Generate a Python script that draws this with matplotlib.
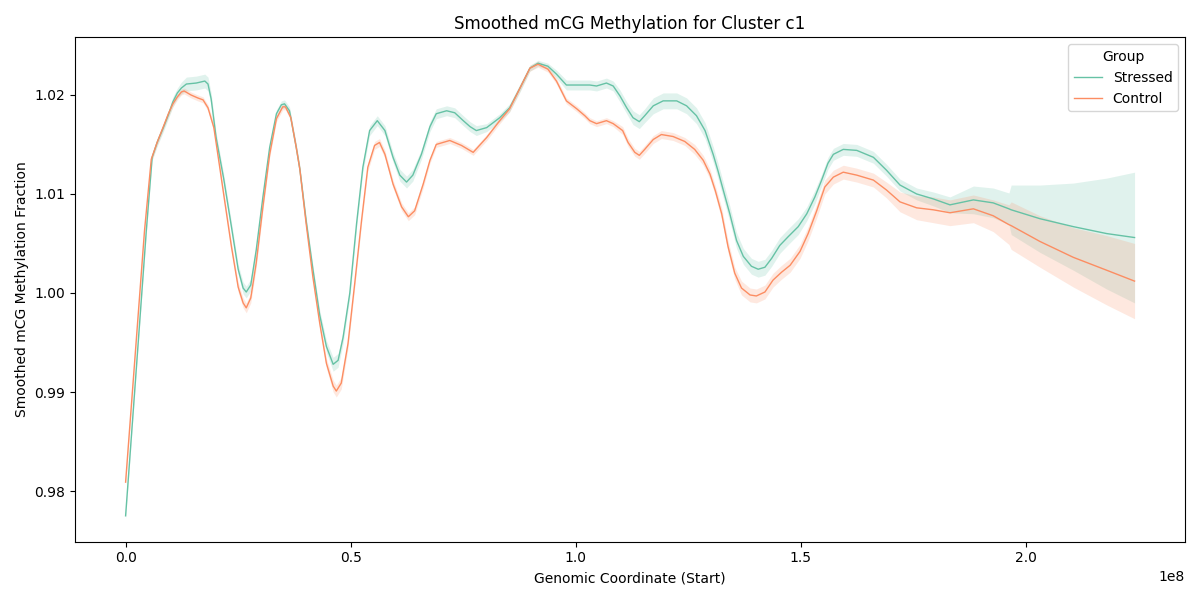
import numpy as np
import matplotlib
matplotlib.use("Agg")
import matplotlib.pyplot as plt

# Genomic start positions (units of 1e8 bp), smoothed means and CI half-widths
stressed_start = [0.000, 0.020, 0.046, 0.059, 0.070, 0.083, 0.095, 0.105, 0.115, 0.124,
                  0.135, 0.157, 0.176, 0.183, 0.190, 0.201, 0.218, 0.235, 0.250, 0.261,
                  0.268, 0.278, 0.290, 0.305, 0.320, 0.335, 0.346, 0.353, 0.364, 0.379,
                  0.387, 0.401, 0.416, 0.431, 0.446, 0.461, 0.472, 0.483, 0.498, 0.513,
                  0.527, 0.542, 0.559, 0.576, 0.594, 0.609, 0.624, 0.638, 0.657, 0.676,
                  0.690, 0.713, 0.731, 0.750, 0.765, 0.779, 0.802, 0.831, 0.853, 0.876,
                  0.898, 0.916, 0.938, 0.957, 0.979, 1.002, 1.031, 1.046, 1.068, 1.083,
                  1.098, 1.113, 1.127, 1.141, 1.153, 1.172, 1.194, 1.224, 1.246, 1.268,
                  1.287, 1.305, 1.316, 1.328, 1.342, 1.357, 1.372, 1.390, 1.405, 1.420,
                  1.435, 1.453, 1.472, 1.494, 1.513, 1.531, 1.546, 1.560, 1.572, 1.594,
                  1.624, 1.661, 1.690, 1.720, 1.757, 1.794, 1.831, 1.883, 1.927, 1.962,
                  1.967, 2.031, 2.105, 2.179, 2.241]
stressed_mean = [0.9775, 0.9900, 1.0063, 1.0137, 1.0152, 1.0166, 1.0180, 1.0193, 1.0202, 1.0207,
                 1.0211, 1.0212, 1.0214, 1.0211, 1.0196, 1.0157, 1.0115, 1.0067, 1.0024, 1.0005,
                 1.0001, 1.0008, 1.0043, 1.0097, 1.0147, 1.0181, 1.0190, 1.0191, 1.0184, 1.0147,
                 1.0125, 1.0073, 1.0024, 0.9978, 0.9946, 0.9928, 0.9932, 0.9955, 1.0000, 1.0070,
                 1.0127, 1.0164, 1.0174, 1.0164, 1.0137, 1.0119, 1.0112, 1.0119, 1.0140, 1.0168,
                 1.0181, 1.0184, 1.0182, 1.0174, 1.0168, 1.0164, 1.0167, 1.0177, 1.0187, 1.0207,
                 1.0227, 1.0232, 1.0229, 1.0221, 1.0210, 1.0210, 1.0210, 1.0209, 1.0212, 1.0209,
                 1.0199, 1.0187, 1.0177, 1.0173, 1.0179, 1.0189, 1.0194, 1.0194, 1.0189, 1.0179,
                 1.0164, 1.0140, 1.0123, 1.0103, 1.0080, 1.0053, 1.0037, 1.0027, 1.0024, 1.0026,
                 1.0035, 1.0048, 1.0057, 1.0067, 1.0080, 1.0097, 1.0114, 1.0131, 1.0140, 1.0145,
                 1.0144, 1.0137, 1.0124, 1.0109, 1.0100, 1.0095, 1.0089, 1.0094, 1.0091, 1.0085,
                 1.0084, 1.0075, 1.0067, 1.0060, 1.0056]
stressed_ci = [0.0003, 0.0003, 0.0003, 0.0003, 0.0004, 0.0004, 0.0004, 0.0005, 0.0005, 0.0006,
               0.0007, 0.0007, 0.0007, 0.0007, 0.0006, 0.0005, 0.0005, 0.0005, 0.0005, 0.0006,
               0.0006, 0.0006, 0.0005, 0.0004, 0.0004, 0.0004, 0.0004, 0.0004, 0.0004, 0.0004,
               0.0004, 0.0004, 0.0004, 0.0005, 0.0006, 0.0007, 0.0007, 0.0006, 0.0005, 0.0004,
               0.0005, 0.0005, 0.0005, 0.0005, 0.0005, 0.0006, 0.0006, 0.0006, 0.0005, 0.0005,
               0.0005, 0.0005, 0.0005, 0.0005, 0.0005, 0.0005, 0.0004, 0.0004, 0.0004, 0.0004,
               0.0003, 0.0003, 0.0003, 0.0004, 0.0005, 0.0005, 0.0005, 0.0005, 0.0005, 0.0005,
               0.0006, 0.0006, 0.0007, 0.0007, 0.0007, 0.0008, 0.0008, 0.0008, 0.0008, 0.0008,
               0.0008, 0.0008, 0.0008, 0.0008, 0.0008, 0.0008, 0.0008, 0.0008, 0.0008, 0.0008,
               0.0008, 0.0008, 0.0008, 0.0008, 0.0007, 0.0007, 0.0006, 0.0006, 0.0006, 0.0006,
               0.0006, 0.0006, 0.0006, 0.0006, 0.0006, 0.0007, 0.0008, 0.0014, 0.0015, 0.0016,
               0.0025, 0.0034, 0.0044, 0.0056, 0.0066]

control_start = [0.000, 0.020, 0.042, 0.057, 0.070, 0.083, 0.095, 0.105, 0.115, 0.124,
                 0.130, 0.145, 0.160, 0.172, 0.183, 0.196, 0.210, 0.220, 0.235, 0.250,
                 0.261, 0.268, 0.278, 0.290, 0.305, 0.320, 0.335, 0.349, 0.355, 0.367,
                 0.379, 0.387, 0.401, 0.416, 0.431, 0.446, 0.461, 0.468, 0.479, 0.494,
                 0.509, 0.524, 0.538, 0.553, 0.564, 0.576, 0.594, 0.613, 0.628, 0.642,
                 0.661, 0.676, 0.690, 0.720, 0.746, 0.772, 0.802, 0.831, 0.853, 0.876,
                 0.898, 0.916, 0.938, 0.957, 0.979, 1.002, 1.020, 1.031, 1.046, 1.068,
                 1.083, 1.104, 1.116, 1.131, 1.141, 1.153, 1.172, 1.190, 1.216, 1.242,
                 1.264, 1.283, 1.298, 1.310, 1.324, 1.338, 1.353, 1.368, 1.387, 1.401,
                 1.420, 1.438, 1.457, 1.476, 1.498, 1.516, 1.535, 1.553, 1.572, 1.594,
                 1.624, 1.661, 1.690, 1.720, 1.757, 1.794, 1.831, 1.883, 1.927, 1.962,
                 1.967, 2.031, 2.105, 2.179, 2.241]
control_mean = [0.9809, 0.9930, 1.0063, 1.0135, 1.0152, 1.0167, 1.0181, 1.0191, 1.0198, 1.0203,
                1.0204, 1.0200, 1.0197, 1.0195, 1.0187, 1.0167, 1.0124, 1.0093, 1.0047, 1.0006,
                0.9990, 0.9985, 0.9995, 1.0030, 1.0087, 1.0140, 1.0176, 1.0188, 1.0188, 1.0177,
                1.0147, 1.0125, 1.0070, 1.0016, 0.9970, 0.9929, 0.9906, 0.9901, 0.9909, 0.9949,
                1.0010, 1.0073, 1.0127, 1.0149, 1.0152, 1.0140, 1.0110, 1.0087, 1.0077, 1.0083,
                1.0110, 1.0134, 1.0150, 1.0154, 1.0149, 1.0142, 1.0157, 1.0174, 1.0186, 1.0207,
                1.0227, 1.0231, 1.0226, 1.0214, 1.0194, 1.0186, 1.0179, 1.0174, 1.0171, 1.0174,
                1.0171, 1.0164, 1.0152, 1.0142, 1.0139, 1.0145, 1.0155, 1.0160, 1.0158, 1.0153,
                1.0145, 1.0134, 1.0120, 1.0103, 1.0080, 1.0047, 1.0020, 1.0005, 0.9998, 0.9997,
                1.0001, 1.0013, 1.0021, 1.0028, 1.0042, 1.0060, 1.0083, 1.0107, 1.0117, 1.0122,
                1.0119, 1.0114, 1.0104, 1.0092, 1.0086, 1.0084, 1.0081, 1.0085, 1.0078, 1.0069,
                1.0068, 1.0052, 1.0036, 1.0023, 1.0012]
control_ci = [0.0003, 0.0003, 0.0003, 0.0003, 0.0003, 0.0003, 0.0003, 0.0003, 0.0003, 0.0003,
              0.0003, 0.0003, 0.0003, 0.0003, 0.0003, 0.0004, 0.0004, 0.0004, 0.0004, 0.0005,
              0.0005, 0.0005, 0.0005, 0.0005, 0.0004, 0.0003, 0.0003, 0.0003, 0.0003, 0.0003,
              0.0003, 0.0003, 0.0004, 0.0004, 0.0005, 0.0005, 0.0006, 0.0006, 0.0006, 0.0005,
              0.0004, 0.0004, 0.0004, 0.0004, 0.0004, 0.0004, 0.0004, 0.0004, 0.0004, 0.0004,
              0.0004, 0.0003, 0.0003, 0.0003, 0.0003, 0.0003, 0.0003, 0.0003, 0.0003, 0.0003,
              0.0003, 0.0003, 0.0003, 0.0003, 0.0003, 0.0003, 0.0003, 0.0003, 0.0003, 0.0003,
              0.0003, 0.0004, 0.0004, 0.0004, 0.0004, 0.0004, 0.0004, 0.0004, 0.0004, 0.0004,
              0.0005, 0.0005, 0.0005, 0.0005, 0.0006, 0.0006, 0.0006, 0.0007, 0.0007, 0.0007,
              0.0007, 0.0007, 0.0007, 0.0007, 0.0007, 0.0007, 0.0007, 0.0007, 0.0007, 0.0007,
              0.0007, 0.0007, 0.0008, 0.0010, 0.0012, 0.0013, 0.0013, 0.0014, 0.0016, 0.0020,
              0.0024, 0.0026, 0.0030, 0.0035, 0.0038]

groups = ["Stressed", "Control"]
colors = {"Stressed": "#66c2a5", "Control": "#fc8d62"}
series = {
    "Stressed": (stressed_start, stressed_mean, stressed_ci),
    "Control": (control_start, control_mean, control_ci),
}

fig, ax = plt.subplots(figsize=(12, 6), dpi=100)
for g in groups:
    xs, ys, ci = series[g]
    x = np.array(xs) * 1e8
    y = np.array(ys)
    c = np.array(ci)
    ax.fill_between(x, y - c, y + c, color=colors[g], alpha=0.2, linewidth=0)
    ax.plot(x, y, color=colors[g], linewidth=1.0, label=g)

ax.set_title("Smoothed mCG Methylation for Cluster c1")
ax.set_xlabel("Genomic Coordinate (Start)")
ax.set_ylabel("Smoothed mCG Methylation Fraction")
ax.legend(title="Group", loc="upper right")
fig.tight_layout()
fig.savefig("out.png")
